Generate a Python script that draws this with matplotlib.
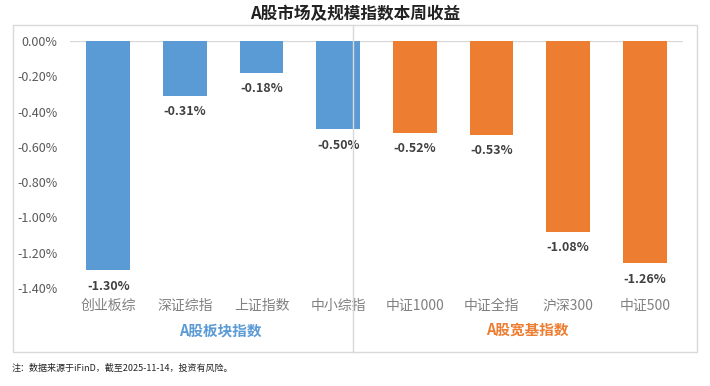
import numpy as np
import matplotlib.pyplot as plt
from matplotlib.patches import Rectangle
from matplotlib.lines import Line2D

plt.rcParams['font.family'] = ['Noto Sans CJK SC', 'DejaVu Sans']

categories = ["创业板综", "深证综指", "上证指数", "中小综指", "中证1000", "中证全指", "沪深300", "中证500"]
returns = [-1.30, -0.31, -0.18, -0.50, -0.52, -0.53, -1.08, -1.26]
groups = ["A股板块指数", "A股宽基指数"]
group_sizes = [4, 4]
yticks = [0.0, -0.2, -0.4, -0.6, -0.8, -1.0, -1.2, -1.4]

BLUE = "#5B9BD5"
ORANGE = "#ED7D31"
colors = [BLUE] * group_sizes[0] + [ORANGE] * group_sizes[1]

W, H = 710, 386
fig = plt.figure(figsize=(W / 100, H / 100), dpi=100)
ax = fig.add_axes([70 / W, 1 - 288 / H, (683 - 70) / W, (288 - 41) / H])

x = np.arange(len(categories))
ax.bar(x, returns, width=0.57, color=colors, zorder=2)
ax.axhline(0, color="#d9d9d9", lw=1, zorder=1)

for xi, v in zip(x, returns):
    ax.annotate(f"{v:.2f}%", (xi, v), xytext=(0, -11.5), textcoords="offset points",
                ha="center", va="center", fontsize=9, fontweight="bold", color="#404040")

ax.set_xlim(-0.5, len(categories) - 0.5)
ax.set_ylim(-1.4, 0)
ax.set_yticks(yticks)
ax.set_yticklabels([f"{v:.2f}%" for v in yticks], color="#595959", fontsize=9)
ax.set_xticks(x)
ax.set_xticklabels(categories, color="#808080", fontsize=10)
ax.tick_params(axis="both", length=0)
ax.tick_params(axis="x", pad=8)
ax.tick_params(axis="y", pad=9)
for s in ax.spines.values():
    s.set_visible(False)

# outer frame and group separator
fig.add_artist(Rectangle((13 / W, 1 - 352 / H), (697 - 13) / W, (352 - 25) / H,
                         transform=fig.transFigure, fill=False, edgecolor="#d9d9d9", lw=1))
fig.add_artist(Line2D([353 / W, 353 / W], [1 - 352 / H, 1 - 25 / H],
                      transform=fig.transFigure, color="#d9d9d9", lw=1))

fig.text(220 / W, 1 - 330 / H, groups[0], color=BLUE, fontsize=10.5, fontweight="bold",
         ha="center", va="center")
fig.text(527 / W, 1 - 330 / H, groups[1], color=ORANGE, fontsize=10.5, fontweight="bold",
         ha="center", va="center")

fig.text(0.5, 1 - 14 / H, "A股市场及规模指数本周收益", fontsize=12, fontweight="bold",
         ha="center", va="center", color="#222222")
fig.text(12 / W, 1 - 368 / H, "注：数据来源于iFinD，截至2025-11-14，投资有风险。", fontsize=6.5,
         ha="left", va="center", color="#222222")

plt.savefig("out.png", dpi=100)
